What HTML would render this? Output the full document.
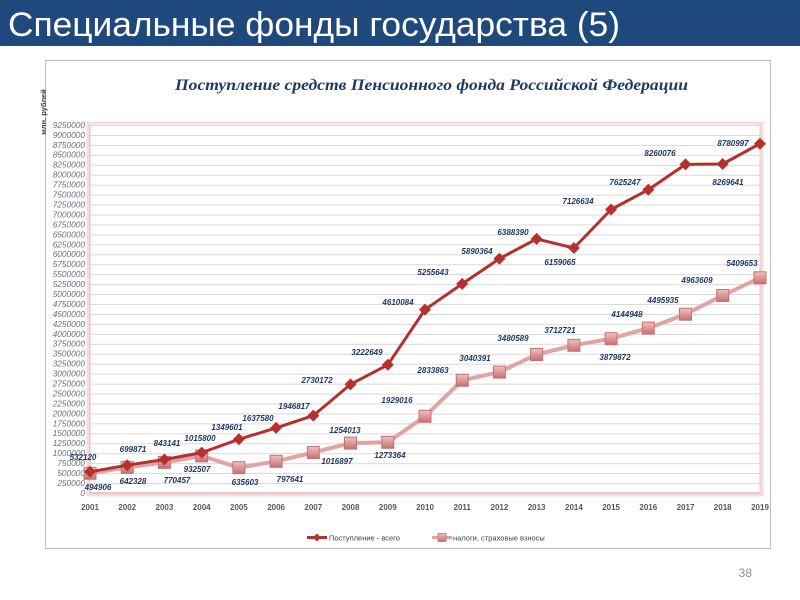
<!DOCTYPE html>
<html><head><meta charset="utf-8"><style>
html,body{margin:0;padding:0;width:800px;height:600px;overflow:hidden;background:#fff}
svg{display:block}
</style></head><body>
<svg width="800" height="600" viewBox="0 0 800 600" xmlns="http://www.w3.org/2000/svg" font-family="Liberation Sans, DejaVu Sans, sans-serif">
<defs>
<pattern id="grid" x="0" y="125" width="800" height="9.946" patternUnits="userSpaceOnUse">
<line x1="0" y1="0.5" x2="800" y2="0.5" stroke="#d9d9d9" stroke-width="1"/>
</pattern>
<linearGradient id="sq" x1="0" y1="0" x2="0" y2="1"><stop offset="0" stop-color="#f0c0c0"/><stop offset="1" stop-color="#c87070"/></linearGradient>
</defs>
<rect x="0" y="0" width="800" height="46" fill="#1f497d"/>
<text x="8" y="36" font-size="34" fill="#ffffff" textLength="612" lengthAdjust="spacingAndGlyphs">Специальные фонды государства (5)</text>
<rect x="45.5" y="60.5" width="725" height="488" fill="#fff" stroke="#bfbfbf" stroke-width="1"/>
<text x="175" y="90" font-family="Liberation Serif, serif" font-style="italic" font-weight="bold" font-size="16" fill="#1f3864" textLength="513" lengthAdjust="spacingAndGlyphs">Поступление средств Пенсионного фонда Российской Федерации</text>
<text transform="translate(46,112) rotate(-90)" text-anchor="middle" font-size="7.5" font-weight="bold" fill="#404040">млн. рублей</text>
<rect x="90" y="125" width="670" height="368" fill="url(#grid)"/>
<rect x="88" y="123" width="674" height="372" fill="none" stroke="#f6dcdc" stroke-width="3"/>
<line x1="90" y1="125" x2="90" y2="493" stroke="#e8b8b8" stroke-width="1"/>
<line x1="90" y1="493" x2="760" y2="493" stroke="#e8b8b8" stroke-width="1.5"/>
<line x1="760" y1="125" x2="760" y2="493" stroke="#f0c8c8" stroke-width="1"/>
<g font-size="8.3" font-style="italic" fill="#6b7080" text-anchor="end">
<text x="85" y="495.9">0</text><text x="85" y="486">250000</text><text x="85" y="476">500000</text><text x="85" y="466.1">750000</text><text x="85" y="456.1">1000000</text><text x="85" y="446.2">1250000</text><text x="85" y="436.2">1500000</text><text x="85" y="426.3">1750000</text><text x="85" y="416.3">2000000</text><text x="85" y="406.4">2250000</text><text x="85" y="396.4">2500000</text><text x="85" y="386.5">2750000</text><text x="85" y="376.5">3000000</text><text x="85" y="366.6">3250000</text><text x="85" y="356.7">3500000</text><text x="85" y="346.7">3750000</text><text x="85" y="336.8">4000000</text><text x="85" y="326.8">4250000</text><text x="85" y="316.9">4500000</text><text x="85" y="306.9">4750000</text><text x="85" y="297">5000000</text><text x="85" y="287">5250000</text><text x="85" y="277.1">5500000</text><text x="85" y="267.1">5750000</text><text x="85" y="257.2">6000000</text><text x="85" y="247.3">6250000</text><text x="85" y="237.3">6500000</text><text x="85" y="227.4">6750000</text><text x="85" y="217.4">7000000</text><text x="85" y="207.5">7250000</text><text x="85" y="197.5">7500000</text><text x="85" y="187.6">7750000</text><text x="85" y="177.6">8000000</text><text x="85" y="167.7">8250000</text><text x="85" y="157.7">8500000</text><text x="85" y="147.8">8750000</text><text x="85" y="137.8">9000000</text><text x="85" y="127.9">9250000</text>
</g>
<g font-size="8" font-weight="bold" fill="#595959" text-anchor="middle">
<text x="90" y="510">2001</text><text x="127.2" y="510">2002</text><text x="164.4" y="510">2003</text><text x="201.7" y="510">2004</text><text x="238.9" y="510">2005</text><text x="276.1" y="510">2006</text><text x="313.3" y="510">2007</text><text x="350.5" y="510">2008</text><text x="387.8" y="510">2009</text><text x="425" y="510">2010</text><text x="462.2" y="510">2011</text><text x="499.4" y="510">2012</text><text x="536.6" y="510">2013</text><text x="573.9" y="510">2014</text><text x="611.1" y="510">2015</text><text x="648.3" y="510">2016</text><text x="685.5" y="510">2017</text><text x="722.7" y="510">2018</text><text x="760" y="510">2019</text>
</g>
<polyline fill="none" stroke="#e3a3a3" stroke-width="4" stroke-linejoin="round" points="90,473.3 127.2,467.4 164.4,462.4 201.7,455.9 238.9,467.7 276.1,461.3 313.3,452.5 350.5,443.1 387.8,442.3 425,416.3 462.2,380.3 499.4,372.1 536.6,354.5 573.9,345.3 611.1,338.7 648.3,328.1 685.5,314.2 722.7,295.5 760,277.8"/>
<g fill="url(#sq)" stroke="#c47272" stroke-width="1">
<rect x="84" y="467.3" width="12" height="12"/><rect x="121.2" y="461.4" width="12" height="12"/><rect x="158.4" y="456.4" width="12" height="12"/><rect x="195.7" y="449.9" width="12" height="12"/><rect x="232.9" y="461.7" width="12" height="12"/><rect x="270.1" y="455.3" width="12" height="12"/><rect x="307.3" y="446.5" width="12" height="12"/><rect x="344.5" y="437.1" width="12" height="12"/><rect x="381.8" y="436.3" width="12" height="12"/><rect x="419" y="410.3" width="12" height="12"/><rect x="456.2" y="374.3" width="12" height="12"/><rect x="493.4" y="366.1" width="12" height="12"/><rect x="530.6" y="348.5" width="12" height="12"/><rect x="567.9" y="339.3" width="12" height="12"/><rect x="605.1" y="332.7" width="12" height="12"/><rect x="642.3" y="322.1" width="12" height="12"/><rect x="679.5" y="308.2" width="12" height="12"/><rect x="716.7" y="289.5" width="12" height="12"/><rect x="754" y="271.8" width="12" height="12"/>
</g>
<polyline fill="none" stroke="#b3302e" stroke-width="3" stroke-linejoin="round" points="90,471.8 127.2,465.2 164.4,459.5 201.7,452.6 238.9,439.3 276.1,427.9 313.3,415.6 350.5,384.4 387.8,364.8 425,309.6 462.2,283.9 499.4,258.7 536.6,238.9 573.9,248 611.1,209.5 648.3,189.7 685.5,164.4 722.7,164 760,143.7"/>
<g fill="#b8302e">
<path d="M90 465.8l6 6-6 6-6-6z"/><path d="M127.2 459.2l6 6-6 6-6-6z"/><path d="M164.4 453.5l6 6-6 6-6-6z"/><path d="M201.7 446.6l6 6-6 6-6-6z"/><path d="M238.9 433.3l6 6-6 6-6-6z"/><path d="M276.1 421.9l6 6-6 6-6-6z"/><path d="M313.3 409.6l6 6-6 6-6-6z"/><path d="M350.5 378.4l6 6-6 6-6-6z"/><path d="M387.8 358.8l6 6-6 6-6-6z"/><path d="M425 303.6l6 6-6 6-6-6z"/><path d="M462.2 277.9l6 6-6 6-6-6z"/><path d="M499.4 252.7l6 6-6 6-6-6z"/><path d="M536.6 232.9l6 6-6 6-6-6z"/><path d="M573.9 242l6 6-6 6-6-6z"/><path d="M611.1 203.5l6 6-6 6-6-6z"/><path d="M648.3 183.7l6 6-6 6-6-6z"/><path d="M685.5 158.4l6 6-6 6-6-6z"/><path d="M722.7 158l6 6-6 6-6-6z"/><path d="M760 137.7l6 6-6 6-6-6z"/>
</g>
<g font-size="8" font-style="italic" font-weight="bold" fill="#1f3864" text-anchor="middle">
<text x="83" y="460">532120</text><text x="133" y="452">699871</text><text x="167" y="446">843141</text><text x="200" y="441">1015800</text><text x="227" y="430">1349601</text><text x="258" y="421">1637580</text><text x="294" y="409">1946817</text><text x="317" y="383">2730172</text><text x="367" y="355">3222649</text><text x="398" y="305">4610084</text><text x="433" y="275">5255643</text><text x="477" y="254">5890364</text><text x="513" y="235">6388390</text><text x="560" y="265">6159065</text><text x="578" y="204">7126634</text><text x="625" y="185">7625247</text><text x="660" y="156">8260076</text><text x="728" y="185">8269641</text><text x="733" y="146">8780997</text>
<text x="98" y="490">494906</text><text x="133" y="484">642328</text><text x="177" y="483">770457</text><text x="197" y="472">932507</text><text x="245" y="485">635603</text><text x="290" y="482">797641</text><text x="337" y="464">1016897</text><text x="345" y="433">1254013</text><text x="390" y="458">1273364</text><text x="397" y="403">1929016</text><text x="433" y="373">2833863</text><text x="475" y="361">3040391</text><text x="513" y="341">3480589</text><text x="560" y="333">3712721</text><text x="615" y="360">3879872</text><text x="627" y="317">4144948</text><text x="663" y="303">4495935</text><text x="697" y="283">4963609</text><text x="742" y="266">5409653</text>
</g>
<line x1="307" y1="537.5" x2="327" y2="537.5" stroke="#b3302e" stroke-width="3"/>
<path d="M317 533.5l4 4-4 4-4-4z" fill="#b8302e"/>
<text x="329" y="540.5" font-size="7.5" fill="#404040">Поступление - всего</text>
<line x1="432" y1="537.5" x2="452" y2="537.5" stroke="#e3a3a3" stroke-width="3"/>
<rect x="438" y="533.5" width="8" height="8" fill="url(#sq)" stroke="#c47272" stroke-width="0.8"/>
<text x="453" y="540.5" font-size="7.5" fill="#404040">налоги, страховые взносы</text>
<text x="752" y="577" text-anchor="end" font-size="12" fill="#8c8c8c">38</text>
</svg>
</body></html>
